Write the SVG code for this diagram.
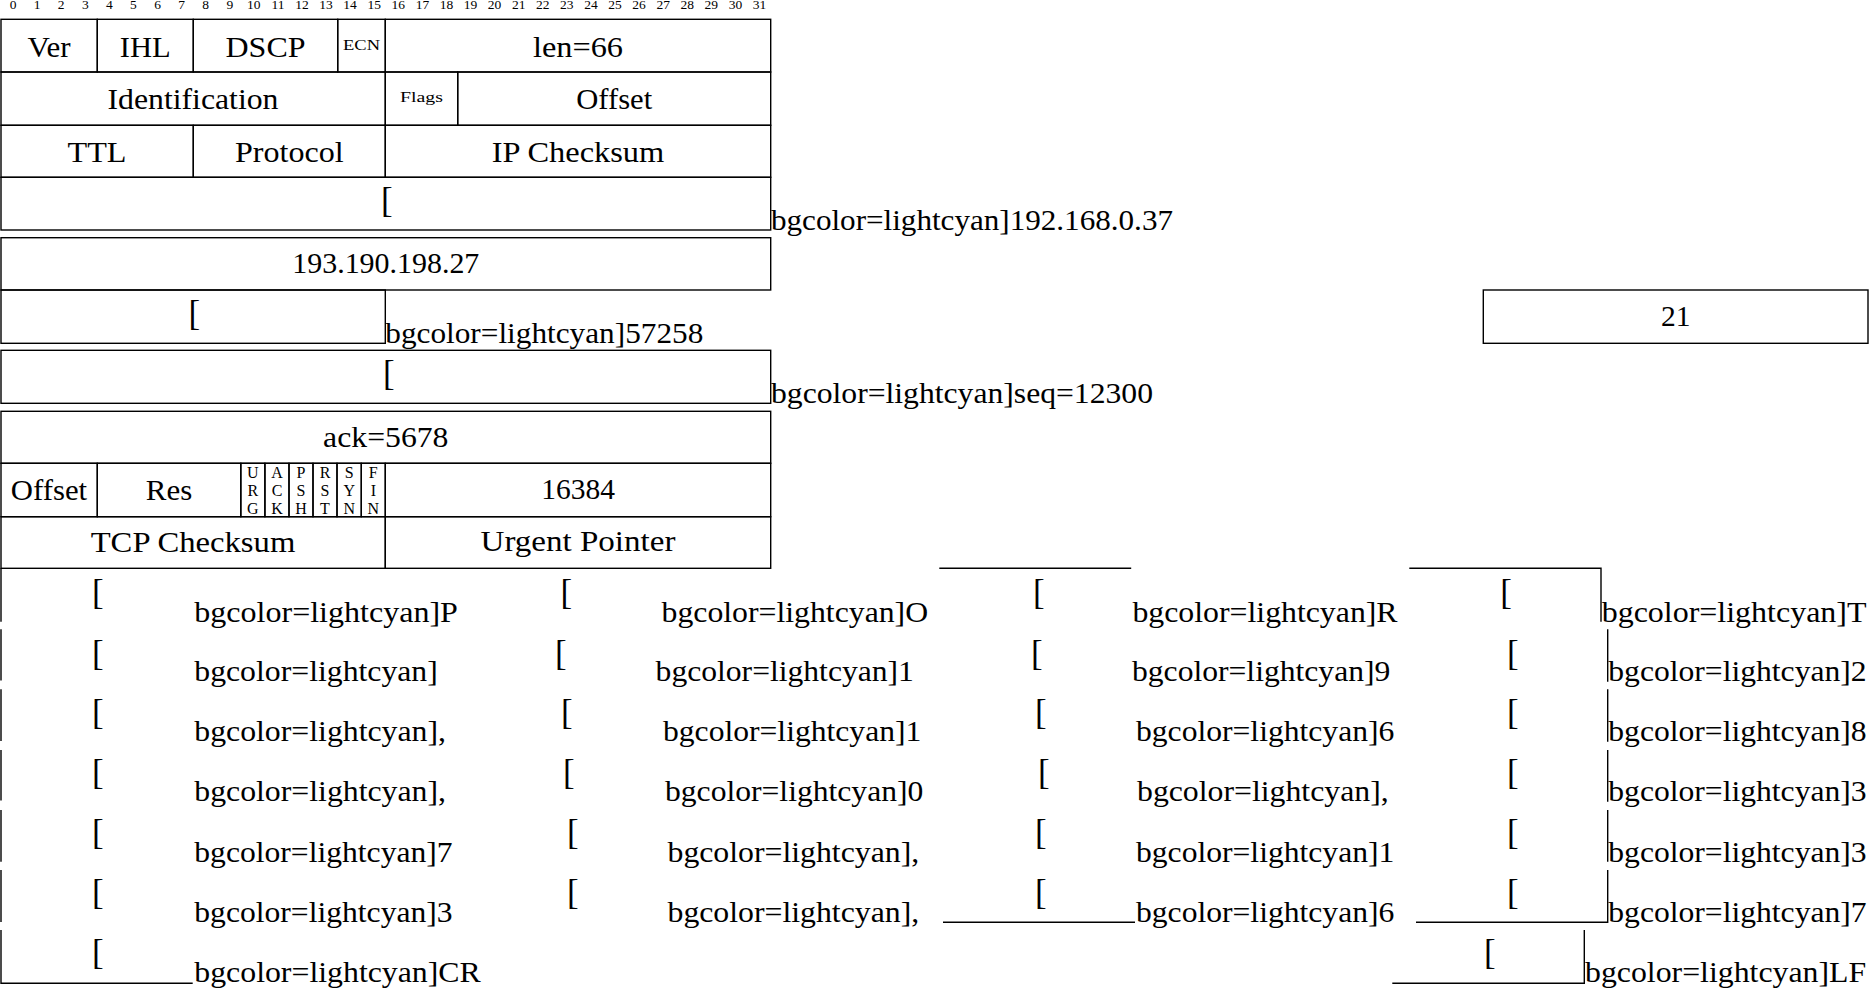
<svg xmlns="http://www.w3.org/2000/svg" width="1869" height="991" viewBox="0 0 1869 991">
<style>
text{font-family:"Liberation Serif","Times New Roman",serif;fill:#000}
.t{font-size:29.5px}
.m{text-anchor:middle}
.s{font-size:15px;text-anchor:middle}
.g{font-size:16px;text-anchor:middle}
.n{font-size:13.5px;text-anchor:middle}
.br{font-size:35px}
.ln{fill:none;stroke:#000;stroke-width:1.4}
</style>
<rect width="1869" height="991" fill="#fff"/>
<g id="bit-numbers">
<text class="n" x="13.0" y="9">0</text><text class="n" x="37.1" y="9">1</text><text class="n" x="61.2" y="9">2</text><text class="n" x="85.3" y="9">3</text>
<text class="n" x="109.4" y="9">4</text><text class="n" x="133.4" y="9">5</text><text class="n" x="157.5" y="9">6</text><text class="n" x="181.6" y="9">7</text>
<text class="n" x="205.7" y="9">8</text><text class="n" x="229.8" y="9">9</text><text class="n" x="253.8" y="9">10</text><text class="n" x="277.9" y="9">11</text>
<text class="n" x="302.0" y="9">12</text><text class="n" x="326.0" y="9">13</text><text class="n" x="350.1" y="9">14</text><text class="n" x="374.2" y="9">15</text>
<text class="n" x="398.3" y="9">16</text><text class="n" x="422.4" y="9">17</text><text class="n" x="446.4" y="9">18</text><text class="n" x="470.5" y="9">19</text>
<text class="n" x="494.6" y="9">20</text><text class="n" x="518.7" y="9">21</text><text class="n" x="542.8" y="9">22</text><text class="n" x="566.8" y="9">23</text>
<text class="n" x="590.9" y="9">24</text><text class="n" x="615.0" y="9">25</text><text class="n" x="639.1" y="9">26</text><text class="n" x="663.2" y="9">27</text>
<text class="n" x="687.2" y="9">28</text><text class="n" x="711.3" y="9">29</text><text class="n" x="735.4" y="9">30</text><text class="n" x="759.5" y="9">31</text>
</g>
<g id="connectors"/>
<!-- Row 1 -->
<g id="ver"><rect class="ln" x="1" y="19.3" width="96.3" height="52.7"/><text class="t m" x="49" y="56.7" textLength="43" lengthAdjust="spacingAndGlyphs">Ver</text></g>
<g id="ihl"><rect class="ln" x="97.3" y="19.3" width="96" height="52.7"/><text class="t m" x="145.3" y="56.7" textLength="51" lengthAdjust="spacingAndGlyphs">IHL</text></g>
<g id="dscp"><rect class="ln" x="193.3" y="19.3" width="144.4" height="52.7"/><text class="t m" x="265.5" y="56.7" textLength="80" lengthAdjust="spacingAndGlyphs">DSCP</text></g>
<g id="ecn"><rect class="ln" x="337.7" y="19.3" width="47.6" height="52.7"/><text class="s" x="361.5" y="50" textLength="37" lengthAdjust="spacingAndGlyphs">ECN</text></g>
<g id="len"><rect class="ln" x="385.3" y="19.3" width="385.4" height="52.7"/><text class="t m" x="578" y="56.7" textLength="90" lengthAdjust="spacingAndGlyphs">len=66</text></g>
<!-- Row 2 -->
<g id="identification"><rect class="ln" x="1" y="72" width="384.3" height="53.3"/><text class="t m" x="193" y="109.3" textLength="171" lengthAdjust="spacingAndGlyphs">Identification</text></g>
<g id="ip-flags"><rect class="ln" x="385.3" y="72" width="72.4" height="53.3"/><text class="s" x="421.5" y="101.5" textLength="43" lengthAdjust="spacingAndGlyphs">Flags</text></g>
<g id="frag-offset"><rect class="ln" x="457.7" y="72" width="313" height="53.3"/><text class="t m" x="614.2" y="109.3" textLength="76" lengthAdjust="spacingAndGlyphs">Offset</text></g>
<!-- Row 3 -->
<g id="ttl"><rect class="ln" x="1" y="125.3" width="192.3" height="52"/><text class="t m" x="97" y="161.7" textLength="59" lengthAdjust="spacingAndGlyphs">TTL</text></g>
<g id="protocol"><rect class="ln" x="193.3" y="125.3" width="192" height="52"/><text class="t m" x="289.3" y="161.7" textLength="108.7" lengthAdjust="spacingAndGlyphs">Protocol</text></g>
<g id="ip-checksum"><rect class="ln" x="385.3" y="125.3" width="385.4" height="52"/><text class="t m" x="578" y="161.7" textLength="172.6" lengthAdjust="spacingAndGlyphs">IP Checksum</text></g>
<!-- Row 4 -->
<g id="src-ip"><rect class="ln" x="1" y="177.3" width="769.7" height="52.7"/><text class="br" x="381" y="211.7">[</text><text class="t" x="771" y="230" textLength="402" lengthAdjust="spacingAndGlyphs">bgcolor=lightcyan]192.168.0.37</text></g>
<!-- Row 5 -->
<g id="dst-ip"><rect class="ln" x="1" y="237.7" width="769.7" height="52.3"/><text class="t m" x="385.8" y="273.3" textLength="187" lengthAdjust="spacingAndGlyphs">193.190.198.27</text></g>
<!-- Row 6 -->
<g id="src-port"><rect class="ln" x="1" y="290" width="384.3" height="53.3"/><text class="br" x="188.5" y="324.7">[</text><text class="t" x="385.3" y="343.3" textLength="318" lengthAdjust="spacingAndGlyphs">bgcolor=lightcyan]57258</text></g>
<g id="dst-port"><rect class="ln" x="1483.3" y="290" width="384.7" height="53.3"/><text class="t m" x="1675.7" y="326" textLength="29.5" lengthAdjust="spacingAndGlyphs">21</text></g>
<!-- Row 7 -->
<g id="seq"><rect class="ln" x="1" y="350.3" width="769.7" height="53"/><text class="br" x="383" y="385.4">[</text><text class="t" x="771" y="403.3" textLength="382" lengthAdjust="spacingAndGlyphs">bgcolor=lightcyan]seq=12300</text></g>
<!-- Row 8 -->
<g id="ack"><rect class="ln" x="1" y="411.3" width="769.7" height="52"/><text class="t m" x="385.8" y="447" textLength="125.4" lengthAdjust="spacingAndGlyphs">ack=5678</text></g>
<!-- Row 9 -->
<g id="data-offset"><rect class="ln" x="1" y="463.3" width="96.3" height="53.4"/><text class="t m" x="49" y="499.5" textLength="76.3" lengthAdjust="spacingAndGlyphs">Offset</text></g>
<g id="reserved"><rect class="ln" x="97.3" y="463.3" width="143.5" height="53.4"/><text class="t m" x="169" y="499.5" textLength="46.4" lengthAdjust="spacingAndGlyphs">Res</text></g>
<g id="urg"><rect class="ln" x="240.8" y="463.3" width="24.1" height="53.4"/><text class="g" x="252.9" y="478">U</text><text class="g" x="252.9" y="496">R</text><text class="g" x="252.9" y="513.5">G</text></g>
<g id="ack-flag"><rect class="ln" x="264.9" y="463.3" width="24.1" height="53.4"/><text class="g" x="277" y="478">A</text><text class="g" x="277" y="496">C</text><text class="g" x="277" y="513.5">K</text></g>
<g id="psh"><rect class="ln" x="289" y="463.3" width="24" height="53.4"/><text class="g" x="301" y="478">P</text><text class="g" x="301" y="496">S</text><text class="g" x="301" y="513.5">H</text></g>
<g id="rst"><rect class="ln" x="313" y="463.3" width="24" height="53.4"/><text class="g" x="325" y="478">R</text><text class="g" x="325" y="496">S</text><text class="g" x="325" y="513.5">T</text></g>
<g id="syn"><rect class="ln" x="337" y="463.3" width="24.3" height="53.4"/><text class="g" x="349.2" y="478">S</text><text class="g" x="349.2" y="496">Y</text><text class="g" x="349.2" y="513.5">N</text></g>
<g id="fin"><rect class="ln" x="361.3" y="463.3" width="24" height="53.4"/><text class="g" x="373.3" y="478">F</text><text class="g" x="373.3" y="496">I</text><text class="g" x="373.3" y="513.5">N</text></g>
<g id="window"><rect class="ln" x="385.3" y="463.3" width="385.4" height="53.4"/><text class="t m" x="578" y="499" textLength="73.75" lengthAdjust="spacingAndGlyphs">16384</text></g>
<!-- Row 10 -->
<g id="tcp-checksum"><rect class="ln" x="1" y="516.7" width="384.3" height="51.6"/><text class="t m" x="193" y="551.7" textLength="204.6" lengthAdjust="spacingAndGlyphs">TCP Checksum</text></g>
<g id="urgent-pointer"><rect class="ln" x="385.3" y="516.7" width="385.4" height="51.6"/><text class="t m" x="578" y="550.5" textLength="194.8" lengthAdjust="spacingAndGlyphs">Urgent Pointer</text></g>
<!-- Payload column 1 -->
<g id="payload-col1">
<path class="ln" d="M1 568.3V621.7M1 629.3V680.5M1 689.3V741M1 750V800.5M1 810V861.7M1 870V922M1 930V983.3H192.7"/>
<text class="br" x="92" y="603.7">[</text><text class="t" x="194.3" y="621.7" textLength="263.6" lengthAdjust="spacingAndGlyphs">bgcolor=lightcyan]P</text>
<text class="br" x="92" y="664.7">[</text><text class="t" x="194.3" y="680.5" textLength="243.5" lengthAdjust="spacingAndGlyphs">bgcolor=lightcyan]</text>
<text class="br" x="92" y="723.7">[</text><text class="t" x="194.3" y="741" textLength="251.7" lengthAdjust="spacingAndGlyphs">bgcolor=lightcyan],</text>
<text class="br" x="92" y="783.7">[</text><text class="t" x="194.3" y="800.5" textLength="251.7" lengthAdjust="spacingAndGlyphs">bgcolor=lightcyan],</text>
<text class="br" x="92" y="843.7">[</text><text class="t" x="194.3" y="861.7" textLength="258.3" lengthAdjust="spacingAndGlyphs">bgcolor=lightcyan]7</text>
<text class="br" x="92" y="903.7">[</text><text class="t" x="194.3" y="922" textLength="258.3" lengthAdjust="spacingAndGlyphs">bgcolor=lightcyan]3</text>
<text class="br" x="92" y="963.7">[</text><text class="t" x="194.3" y="982" textLength="286.5" lengthAdjust="spacingAndGlyphs">bgcolor=lightcyan]CR</text>
</g>
<!-- Payload column 2 -->
<g id="payload-col2">
<text class="br" x="560.5" y="603.7">[</text><text class="t" x="661.6" y="621.7" textLength="266.5" lengthAdjust="spacingAndGlyphs">bgcolor=lightcyan]O</text>
<text class="br" x="555" y="664.7">[</text><text class="t" x="655.6" y="680.5" textLength="258.3" lengthAdjust="spacingAndGlyphs">bgcolor=lightcyan]1</text>
<text class="br" x="561" y="723.7">[</text><text class="t" x="663" y="741" textLength="258.3" lengthAdjust="spacingAndGlyphs">bgcolor=lightcyan]1</text>
<text class="br" x="563" y="783.7">[</text><text class="t" x="665" y="800.5" textLength="258.3" lengthAdjust="spacingAndGlyphs">bgcolor=lightcyan]0</text>
<text class="br" x="567" y="843.7">[</text><text class="t" x="667.5" y="861.7" textLength="251.7" lengthAdjust="spacingAndGlyphs">bgcolor=lightcyan],</text>
<text class="br" x="567" y="903.7">[</text><text class="t" x="667.5" y="922" textLength="251.7" lengthAdjust="spacingAndGlyphs">bgcolor=lightcyan],</text>
</g>
<!-- Payload column 3 -->
<g id="payload-col3">
<path class="ln" d="M939.3 568.3H1131.2M943 922.3H1135"/>
<text class="br" x="1033" y="603.7">[</text><text class="t" x="1132.4" y="621.7" textLength="265.2" lengthAdjust="spacingAndGlyphs">bgcolor=lightcyan]R</text>
<text class="br" x="1031" y="664.7">[</text><text class="t" x="1132" y="680.5" textLength="258.3" lengthAdjust="spacingAndGlyphs">bgcolor=lightcyan]9</text>
<text class="br" x="1035" y="723.7">[</text><text class="t" x="1136" y="741" textLength="258.3" lengthAdjust="spacingAndGlyphs">bgcolor=lightcyan]6</text>
<text class="br" x="1038" y="783.7">[</text><text class="t" x="1137" y="800.5" textLength="251.7" lengthAdjust="spacingAndGlyphs">bgcolor=lightcyan],</text>
<text class="br" x="1035" y="843.7">[</text><text class="t" x="1136" y="861.7" textLength="258.3" lengthAdjust="spacingAndGlyphs">bgcolor=lightcyan]1</text>
<text class="br" x="1035" y="903.7">[</text><text class="t" x="1136" y="922" textLength="258.3" lengthAdjust="spacingAndGlyphs">bgcolor=lightcyan]6</text>
</g>
<!-- Payload column 4 -->
<g id="payload-col4">
<path class="ln" d="M1409.3 568.3H1601V621.7M1607.7 629.3V681.7M1607.7 689.3V741.7M1607.7 750V801.7M1607.7 810V861.7M1607.7 870V922.3H1416M1584.3 930V983.3H1392.3"/>
<text class="br" x="1500.3" y="603.7">[</text><text class="t" x="1601.7" y="621.7" textLength="264.8" lengthAdjust="spacingAndGlyphs">bgcolor=lightcyan]T</text>
<text class="br" x="1507" y="664.7">[</text><text class="t" x="1608.3" y="680.5" textLength="258.3" lengthAdjust="spacingAndGlyphs">bgcolor=lightcyan]2</text>
<text class="br" x="1507" y="723.7">[</text><text class="t" x="1608.3" y="741" textLength="258.3" lengthAdjust="spacingAndGlyphs">bgcolor=lightcyan]8</text>
<text class="br" x="1507" y="783.7">[</text><text class="t" x="1608.3" y="800.5" textLength="258.3" lengthAdjust="spacingAndGlyphs">bgcolor=lightcyan]3</text>
<text class="br" x="1507" y="843.7">[</text><text class="t" x="1608.3" y="861.7" textLength="258.3" lengthAdjust="spacingAndGlyphs">bgcolor=lightcyan]3</text>
<text class="br" x="1507" y="903.7">[</text><text class="t" x="1608.3" y="922" textLength="258.3" lengthAdjust="spacingAndGlyphs">bgcolor=lightcyan]7</text>
<text class="br" x="1484" y="963.7">[</text><text class="t" x="1585" y="982" textLength="281.2" lengthAdjust="spacingAndGlyphs">bgcolor=lightcyan]LF</text>
</g>
</svg>
